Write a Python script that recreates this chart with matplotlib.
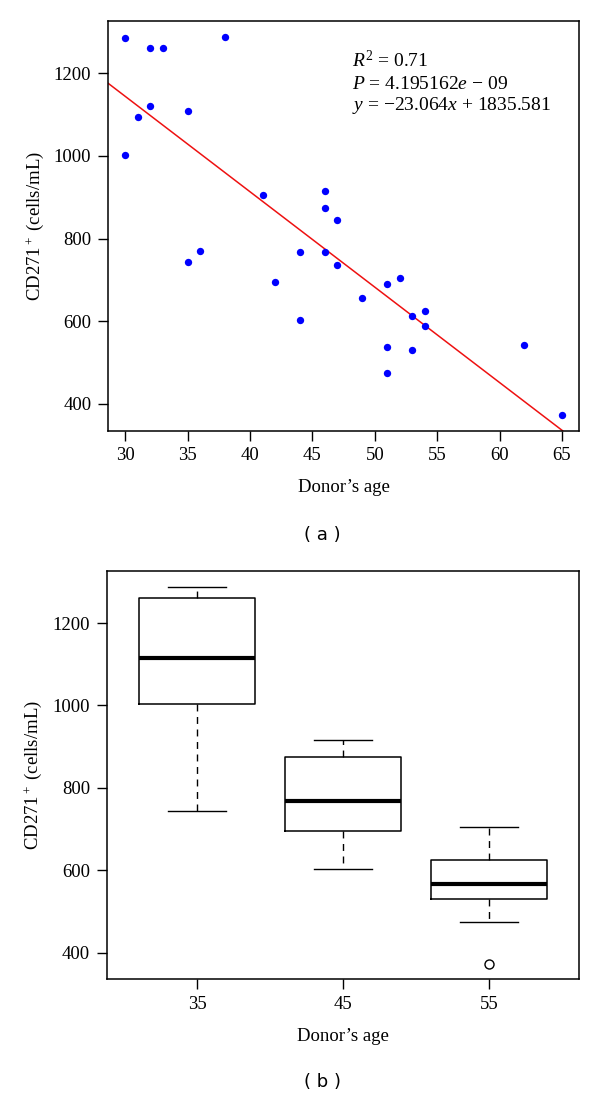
import numpy as np
import matplotlib
matplotlib.use('Agg')
import matplotlib.pyplot as plt

plt.rcParams['font.family'] = 'Liberation Serif'
plt.rcParams['mathtext.fontset'] = 'custom'
plt.rcParams['mathtext.rm'] = 'Liberation Serif'
plt.rcParams['mathtext.it'] = 'Liberation Serif:italic'

# donor age vs CD271+ count
age = [30, 30, 31, 32, 32, 33, 35, 35, 36, 38,
       41, 42, 44, 44, 46, 46, 46, 47, 47, 49,
       51, 51, 51, 52, 53, 53, 54, 54, 62, 65]
cd271 = [1285, 1003, 1093, 1261, 1120, 1261, 1109, 743, 769, 1288,
         906, 695, 767, 603, 916, 874, 767, 846, 735, 657,
         691, 538, 475, 704, 613, 531, 625, 589, 543, 372]

slope = -23.064
intercept = 1835.581
stat_lines = ['$R^2$ = 0.71', '$P$ = 4.195162$e$ \u2212 09', '$y$ = \u221223.064$x$ + 1835.581']

group_labels = ['35', '45', '55']
group_edges = [40, 50]


def fivenum(v):
    # Tukey hinges, same as R boxplot.stats
    x = np.sort(np.asarray(v, dtype=float))
    n = len(x)
    n4 = np.floor((n + 3) / 2) / 2
    d = np.array([1, n4, (n + 1) / 2, n + 1 - n4, n]) - 1
    return 0.5 * (x[np.floor(d).astype(int)] + x[np.ceil(d).astype(int)])


def box_stats(v, coef=1.5):
    v = np.asarray(v, dtype=float)
    lo, q1, med, q3, hi = fivenum(v)
    iqr = q3 - q1
    inside = v[(v >= q1 - coef * iqr) & (v <= q3 + coef * iqr)]
    fliers = v[(v < q1 - coef * iqr) | (v > q3 + coef * iqr)]
    return dict(med=med, q1=q1, q3=q3, whislo=inside.min(), whishi=inside.max(), fliers=fliers)


fig = plt.figure(figsize=(6, 10.98), dpi=100)

tick_kw = dict(direction='out', length=7, width=1, labelsize=13.5, pad=5)

# (a) scatter with regression line
ax1 = fig.add_axes([0.18, 0.6077, 0.7855, 0.3734])
ax1.scatter(age, cd271, s=28, color='#0000ff', zorder=3, linewidths=0)
ax1.axline((0, intercept), slope=slope, color='#ee1111', lw=1.1)
ax1.set_xlim(28.6, 66.4)
ax1.set_ylim(335, 1327)
ax1.set_xticks(range(30, 66, 5))
ax1.set_yticks(range(400, 1201, 200))
ax1.tick_params(**tick_kw)
for i, s in enumerate(stat_lines):
    ax1.text(0.517, 0.887 - i * 0.0525, s, transform=ax1.transAxes, fontsize=14, va='baseline')

# (b) box plot by age group
grp = np.digitize(age, group_edges)
values = np.array(cd271)
stats = []
for g, lab in enumerate(group_labels):
    st = box_stats(values[grp == g])
    st['label'] = lab
    stats.append(st)

ax2 = fig.add_axes([0.1778, 0.1081, 0.7877, 0.3721])
ax2.bxp(stats, positions=[1, 2, 3], widths=0.8, capwidths=0.4,
        boxprops=dict(color='black', lw=1.1),
        medianprops=dict(color='black', lw=3),
        whiskerprops=dict(color='black', lw=1, linestyle=(0, (5, 4))),
        capprops=dict(color='black', lw=1),
        flierprops=dict(marker='o', markerfacecolor='none', markeredgecolor='black',
                        markersize=6.5, markeredgewidth=1))
ax2.set_xlim(0.38, 3.62)
ax2.set_ylim(335, 1327)
ax2.set_yticks(range(400, 1201, 200))
ax2.tick_params(**tick_kw)

for ax in (ax1, ax2):
    for sp in ax.spines.values():
        sp.set_linewidth(1.1)
    ax.set_xlabel("Donor\u2019s age", fontsize=13.5, va='top')
    ax.xaxis.set_label_coords(0.5, -0.118)
    ax.set_ylabel('CD271$^+$ (cells/mL)', fontsize=13.5, va='center')
    ax.yaxis.set_label_coords(-0.155, 0.5)

fig.text(0.538, 0.5128, '( a )', family='DejaVu Sans', fontsize=13, ha='center', va='center')
fig.text(0.538, 0.0148, '( b )', family='DejaVu Sans', fontsize=13, ha='center', va='center')

fig.savefig('out.png', dpi=100)
